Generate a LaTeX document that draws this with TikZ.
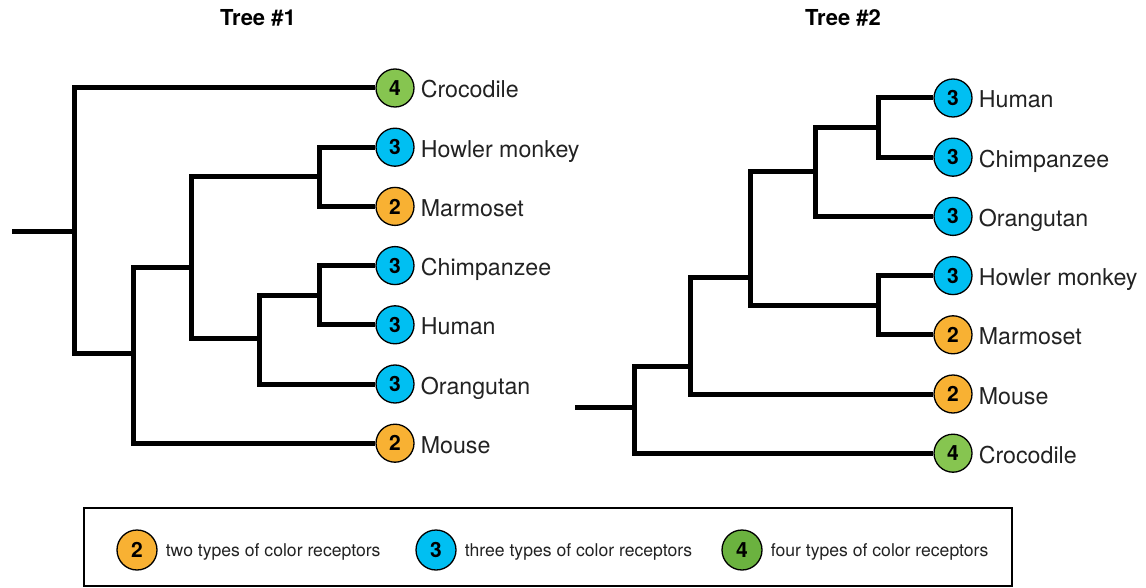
\documentclass[tikz,border=0pt]{standalone}
\usepackage{fontspec}
\setmainfont{TeX Gyre Heros}
\usetikzlibrary{positioning}

\definecolor{rectwo}{HTML}{F8B133}
\definecolor{recthree}{HTML}{00BFF2}
\definecolor{recfour}{HTML}{86C550}
\definecolor{recfourkey}{HTML}{6BB23F}
\definecolor{taxongray}{HTML}{222222}

\begin{document}
\begin{tikzpicture}[x=1pt, y=-1pt,
	branch/.style	= {line width=5pt, line join=miter},
	leaf/.style		= {circle, draw=black, line width=1.3pt, minimum size=38pt, inner sep=0pt,
					   font=\fontsize{21}{21}\selectfont\bfseries},
	two/.style		= {leaf, fill=rectwo},
	three/.style	= {leaf, fill=recthree},
	four/.style		= {leaf, fill=recfour},
	taxon/.style	= {right=6pt of #1, inner sep=0pt, text height=23pt, text depth=3pt,
					   font=\fontsize{23.2}{25}\selectfont, text=taxongray},
	keytext/.style	= {right=8pt of #1, inner sep=0pt, text height=16.4pt, text depth=3pt,
					   font=\fontsize{17.6}{20}\selectfont, text=taxongray},
	title/.style	= {font=\fontsize{22}{24}\selectfont\bfseries}]

\useasboundingbox (0, 0) rectangle (1146, 588);

% titles
\path	(258, 18)	node(title1)	[title]	{Tree \#1}
		(843, 18)	node(title2)	[title]	{Tree \#2};

% tree 1 leaves
\path	(395, 88)		node(croc1)		[four]	{4}
		(395, 147.2)	node(howler1)	[three]	{3}
		(395, 206.4)	node(marm1)		[two]	{2}
		(395, 265.6)	node(chimp1)	[three]	{3}
		(395, 324.8)	node(human1)	[three]	{3}
		(395, 384)		node(orang1)	[three]	{3}
		(395, 443.2)	node(mouse1)	[two]	{2};

\node[taxon=croc1]		(croc1_name)	{Crocodile};
\node[taxon=howler1]	(howler1_name)	{Howler monkey};
\node[taxon=marm1]		(marm1_name)	{Marmoset};
\node[taxon=chimp1]		(chimp1_name)	{Chimpanzee};
\node[taxon=human1]		(human1_name)	{Human};
\node[taxon=orang1]		(orang1_name)	{Orangutan};
\node[taxon=mouse1]		(mouse1_name)	{Mouse};

% tree 1 branch points
\coordinate (stub1)	at (12, 232);
\coordinate (r1)	at (74, 232);
\coordinate (n12)	at (133, 353);
\coordinate (n13)	at (191, 267);
\coordinate (n14)	at (319, 176.8);
\coordinate (n15)	at (259, 338);
\coordinate (n16)	at (319, 295.2);

\draw[branch]	(stub1)	--	(r1);
\draw[branch]	(r1)	|-	(croc1.west);
\draw[branch]	(r1)	|-	(n12);
\draw[branch]	(n12)	|-	(n13);
\draw[branch]	(n12)	|-	(mouse1.west);
\draw[branch]	(n13)	|-	(n14);
\draw[branch]	(n13)	|-	(n15);
\draw[branch]	(n14)	|-	(howler1.west);
\draw[branch]	(n14)	|-	(marm1.west);
\draw[branch]	(n15)	|-	(n16);
\draw[branch]	(n15)	|-	(orang1.west);
\draw[branch]	(n16)	|-	(chimp1.west);
\draw[branch]	(n16)	|-	(human1.west);

% tree 2 leaves
\path	(953, 98)		node(human2)	[three]	{3}
		(953, 157.2)	node(chimp2)	[three]	{3}
		(953, 216.4)	node(orang2)	[three]	{3}
		(953, 275.6)	node(howler2)	[three]	{3}
		(953, 334.8)	node(marm2)		[two]	{2}
		(953, 394)		node(mouse2)	[two]	{2}
		(953, 453.2)	node(croc2)		[four]	{4};

\node[taxon=human2]		(human2_name)	{Human};
\node[taxon=chimp2]		(chimp2_name)	{Chimpanzee};
\node[taxon=orang2]		(orang2_name)	{Orangutan};
\node[taxon=howler2]	(howler2_name)	{Howler monkey};
\node[taxon=marm2]		(marm2_name)	{Marmoset};
\node[taxon=mouse2]		(mouse2_name)	{Mouse};
\node[taxon=croc2]		(croc2_name)	{Crocodile};

% tree 2 branch points
\coordinate (stub2)	at (575, 407);
\coordinate (r2)	at (634, 407);
\coordinate (n22)	at (690, 366);
\coordinate (n23)	at (750, 277);
\coordinate (n24)	at (815, 172);
\coordinate (n25)	at (878, 305.2);
\coordinate (n26)	at (878, 127.6);

\draw[branch]	(stub2)	--	(r2);
\draw[branch]	(r2)	|-	(n22);
\draw[branch]	(r2)	|-	(croc2.west);
\draw[branch]	(n22)	|-	(n23);
\draw[branch]	(n22)	|-	(mouse2.west);
\draw[branch]	(n23)	|-	(n24);
\draw[branch]	(n23)	|-	(n25);
\draw[branch]	(n24)	|-	(n26);
\draw[branch]	(n24)	|-	(orang2.west);
\draw[branch]	(n26)	|-	(human2.west);
\draw[branch]	(n26)	|-	(chimp2.west);
\draw[branch]	(n25)	|-	(howler2.west);
\draw[branch]	(n25)	|-	(marm2.west);

% legend
\draw[line width=1.2pt] (84, 508) rectangle (1012, 586);
\path	(137, 550)	node(key2)	[two, minimum size=40pt]					{2}
		(436, 550)	node(key3)	[three, minimum size=40pt]					{3}
		(742, 550)	node(key4)	[four, fill=recfourkey, minimum size=40pt]	{4};
\node[keytext=key2]	(key2_text)	{two types of color receptors};
\node[keytext=key3]	(key3_text)	{three types of color receptors};
\node[keytext=key4]	(key4_text)	{four types of color receptors};
\end{tikzpicture}
\end{document}
